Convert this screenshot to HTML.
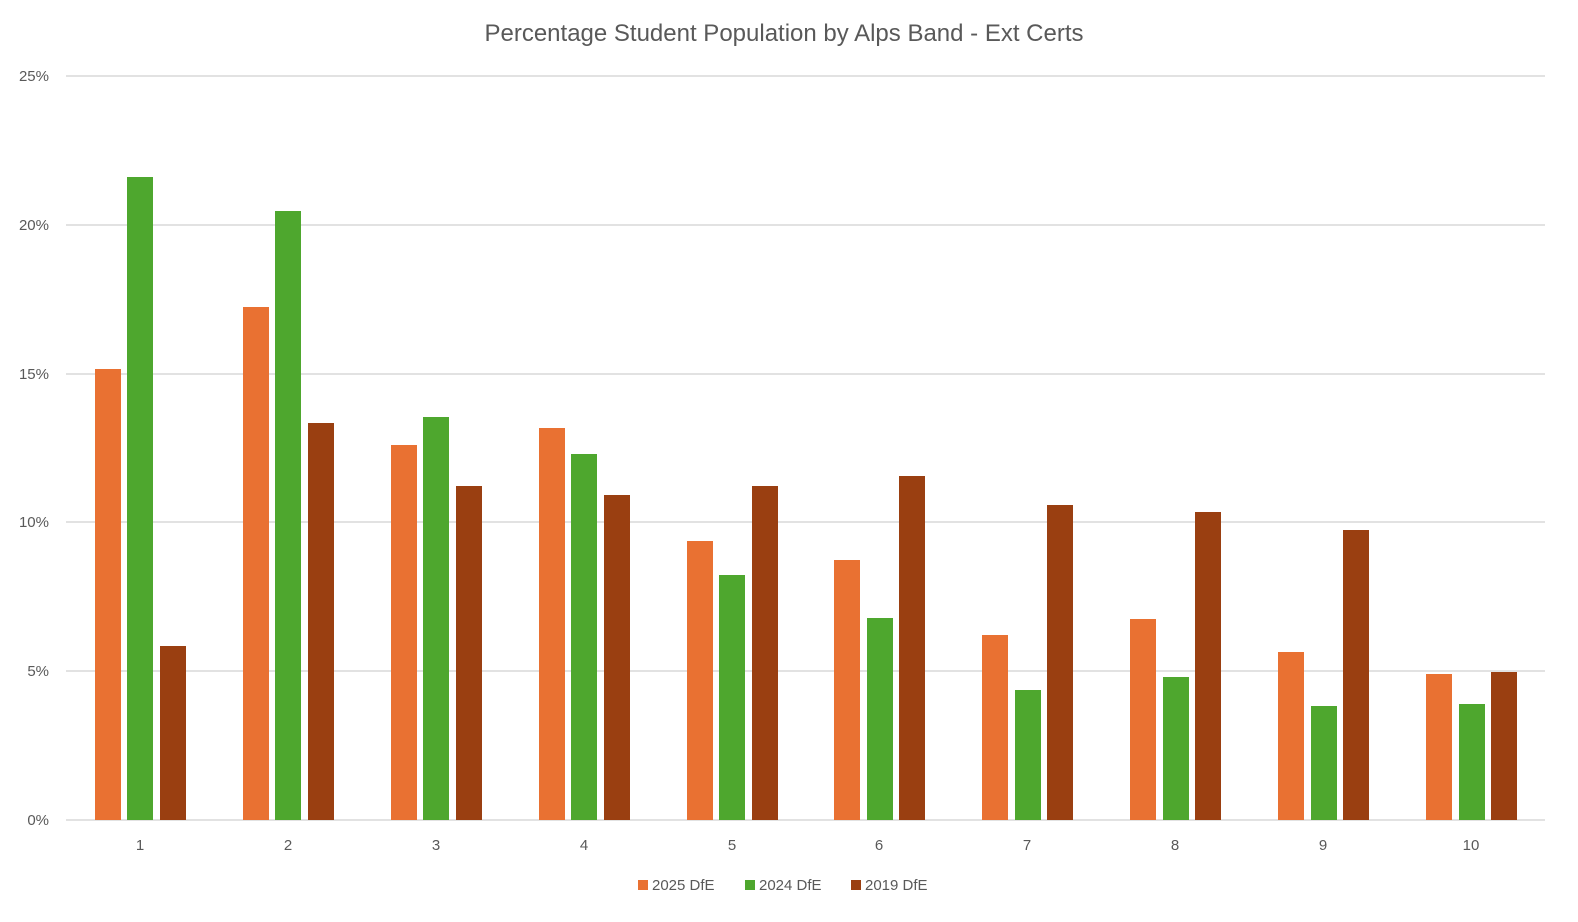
<!DOCTYPE html>
<html><head><style>html,body{margin:0;padding:0;background:#fff;overflow:hidden}svg{display:block}</style></head><body>
<svg width="1578" height="922" viewBox="0 0 1578 922" xmlns="http://www.w3.org/2000/svg" font-family="Liberation Sans, sans-serif">
<rect width="1578" height="922" fill="#fff"/>
<text x="784" y="41" text-anchor="middle" font-size="24" fill="#595959">Percentage Student Population by Alps Band - Ext Certs</text>
<g stroke="#d9d9d9" stroke-width="1.5">
<line x1="66" x2="1545" y1="76" y2="76"/><line x1="66" x2="1545" y1="225" y2="225"/>
<line x1="66" x2="1545" y1="374" y2="374"/><line x1="66" x2="1545" y1="522" y2="522"/>
<line x1="66" x2="1545" y1="671" y2="671"/><line x1="66" x2="1545" y1="820" y2="820"/>
</g>
<g font-size="15" fill="#595959" text-anchor="end">
<text x="49" y="81">25%</text><text x="49" y="230">20%</text><text x="49" y="379">15%</text>
<text x="49" y="527">10%</text><text x="49" y="676">5%</text><text x="49" y="825">0%</text>
</g>
<g fill="#E97132">
<rect x="95" y="369" width="26" height="451"/><rect x="243" y="307" width="26" height="513"/>
<rect x="391" y="445" width="26" height="375"/><rect x="539" y="428" width="26" height="392"/>
<rect x="687" y="541" width="26" height="279"/><rect x="834" y="560" width="26" height="260"/>
<rect x="982" y="635" width="26" height="185"/><rect x="1130" y="619" width="26" height="201"/>
<rect x="1278" y="652" width="26" height="168"/><rect x="1426" y="674" width="26" height="146"/>
</g>
<g fill="#4EA72E">
<rect x="127" y="177" width="26" height="643"/><rect x="275" y="211" width="26" height="609"/>
<rect x="423" y="417" width="26" height="403"/><rect x="571" y="454" width="26" height="366"/>
<rect x="719" y="575" width="26" height="245"/><rect x="867" y="618" width="26" height="202"/>
<rect x="1015" y="690" width="26" height="130"/><rect x="1163" y="677" width="26" height="143"/>
<rect x="1311" y="706" width="26" height="114"/><rect x="1459" y="704" width="26" height="116"/>
</g>
<g fill="#9A3F11">
<rect x="160" y="646" width="26" height="174"/><rect x="308" y="423" width="26" height="397"/>
<rect x="456" y="486" width="26" height="334"/><rect x="604" y="495" width="26" height="325"/>
<rect x="752" y="486" width="26" height="334"/><rect x="899" y="476" width="26" height="344"/>
<rect x="1047" y="505" width="26" height="315"/><rect x="1195" y="512" width="26" height="308"/>
<rect x="1343" y="530" width="26" height="290"/><rect x="1491" y="672" width="26" height="148"/>
</g>
<g font-size="15" fill="#595959" text-anchor="middle">
<text x="140" y="850">1</text><text x="288" y="850">2</text><text x="436" y="850">3</text>
<text x="584" y="850">4</text><text x="732" y="850">5</text><text x="879" y="850">6</text>
<text x="1027" y="850">7</text><text x="1175" y="850">8</text><text x="1323" y="850">9</text>
<text x="1471" y="850">10</text>
</g>
<rect x="638" y="880" width="10" height="10" fill="#E97132"/><text x="652" y="890" font-size="15" fill="#595959">2025 DfE</text>
<rect x="745" y="880" width="10" height="10" fill="#4EA72E"/><text x="759" y="890" font-size="15" fill="#595959">2024 DfE</text>
<rect x="851" y="880" width="10" height="10" fill="#9A3F11"/><text x="865" y="890" font-size="15" fill="#595959">2019 DfE</text>
</svg>
</body></html>
